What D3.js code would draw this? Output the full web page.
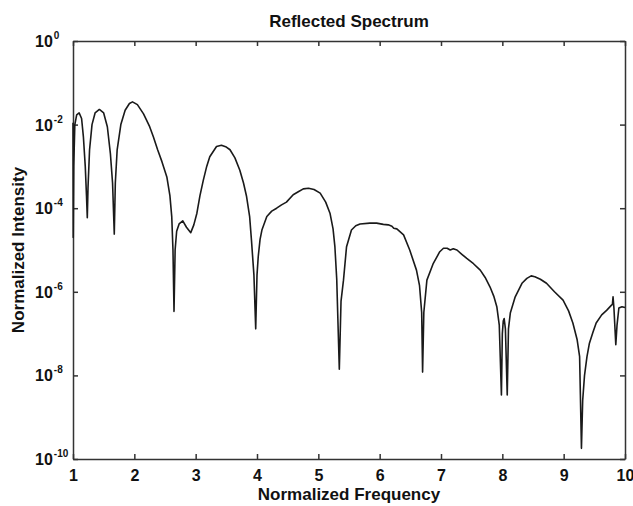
<!DOCTYPE html>
<html lang="en">
<head>
  <meta charset="utf-8">
  <title>Reflected Spectrum</title>
  <script src="https://d3js.org/d3.v7.min.js"></script>
  <style>
    body { margin: 0; background: #fff; }
    text { font-family: 'Liberation Sans', Arial, sans-serif; font-weight: bold; fill: #111; }
    .axis path, .axis line { stroke: #333; stroke-width: 1.5px; }
    .line { fill: none; stroke: #1a1a1a; stroke-width: 1.6px; stroke-linejoin: round; }
  </style>
</head>
<body>
<div id="chart"></div>
<script>
  // values
  var freq = [
    1.000, 1.004, 1.012, 1.03, 1.06, 1.10, 1.14, 1.17, 1.20, 1.22, 1.233, 1.245, 1.27, 1.31, 1.36,
    1.43, 1.50, 1.56, 1.61, 1.645, 1.673, 1.69, 1.72, 1.78, 1.85, 1.92, 1.97, 2.05, 2.15, 2.25,
    2.31, 2.38, 2.45, 2.53, 2.58, 2.61, 2.63, 2.647, 2.665, 2.69, 2.73, 2.79, 2.85, 2.92, 2.97,
    3.02, 3.07, 3.125, 3.18, 3.23, 3.34, 3.42, 3.50, 3.56, 3.64, 3.72, 3.78, 3.83, 3.88, 3.91,
    3.95, 3.979, 4.00, 4.02, 4.05, 4.08, 4.16, 4.24, 4.32, 4.40, 4.48, 4.59, 4.68, 4.755, 4.84,
    4.93, 5.03, 5.12, 5.19, 5.24, 5.27, 5.30, 5.342, 5.37, 5.41, 5.46, 5.54, 5.61, 5.68, 5.84,
    5.95, 6.06, 6.14, 6.20, 6.23, 6.28, 6.39, 6.49, 6.60, 6.65, 6.685, 6.70, 6.72, 6.77, 6.875,
    6.98, 7.04, 7.10, 7.15, 7.20, 7.26, 7.34, 7.42, 7.53, 7.64, 7.72, 7.80, 7.86, 7.91, 7.95,
    7.985, 8.00, 8.015, 8.03, 8.05, 8.08, 8.10, 8.13, 8.21, 8.32, 8.40, 8.47, 8.53, 8.62, 8.72,
    8.85, 8.99, 9.08, 9.15, 9.22, 9.26, 9.29, 9.31, 9.34, 9.38, 9.42, 9.48, 9.53, 9.62, 9.70,
    9.78, 9.795, 9.805, 9.82, 9.85, 9.87, 9.90, 9.95, 10.0
  ];
  var intensity = [
    1.1e-2, 2.0e-5, 1.0e-3, 1.0e-2, 1.7e-2, 1.9e-2, 1.4e-2, 5.0e-3, 1.0e-3, 2.0e-4, 5.9e-5, 3.2e-4, 2.5e-3, 1.0e-2, 1.9e-2,
    2.3e-2, 1.9e-2, 8.9e-3, 2.0e-3, 4.0e-4, 2.4e-5, 4.0e-4, 2.5e-3, 1.0e-2, 2.2e-2, 3.2e-2, 3.5e-2, 3.0e-2, 1.8e-2, 8.9e-3,
    5.1e-3, 2.5e-3, 1.3e-3, 5.6e-4, 2.0e-4, 6.3e-5, 1.0e-5, 3.4e-7, 1.0e-5, 2.8e-5, 4.2e-5, 5.0e-5, 3.5e-5, 2.6e-5, 4.0e-5,
    7.6e-5, 2.0e-4, 4.7e-4, 1.0e-3, 1.7e-3, 3.0e-3, 3.2e-3, 2.9e-3, 2.5e-3, 1.6e-3, 8.1e-4, 4.0e-4, 1.9e-4, 6.3e-5, 1.7e-5,
    2.5e-6, 1.3e-7, 2.5e-6, 6.9e-6, 1.8e-5, 3.0e-5, 6.3e-5, 8.5e-5, 1.0e-4, 1.2e-4, 1.4e-4, 2.1e-4, 2.5e-4, 2.9e-4, 3.0e-4,
    2.8e-4, 2.3e-4, 1.4e-4, 7.6e-5, 3.2e-5, 1.2e-5, 2.0e-6, 1.4e-8, 6.0e-7, 1.9e-6, 1.2e-5, 3.0e-5, 3.8e-5, 4.2e-5, 4.4e-5,
    4.4e-5, 4.1e-5, 4.0e-5, 3.7e-5, 3.3e-5, 3.2e-5, 2.3e-5, 1.0e-5, 3.3e-6, 1.4e-6, 3.2e-7, 1.2e-8, 3.2e-7, 1.9e-6, 4.8e-6,
    9.1e-6, 1.1e-5, 1.1e-5, 1.0e-5, 1.07e-5, 1.0e-5, 7.9e-6, 6.3e-6, 4.7e-6, 3.3e-6, 2.2e-6, 1.3e-6, 7.9e-7, 4.4e-7, 1.6e-7,
    3.4e-9, 1.0e-7, 2.0e-7, 2.3e-7, 1.3e-7, 3.4e-9, 1.3e-7, 3.1e-7, 7.6e-7, 1.6e-6, 2.1e-6, 2.4e-6, 2.3e-6, 2.0e-6, 1.6e-6,
    1.0e-6, 6.3e-7, 3.5e-7, 1.8e-7, 7.1e-8, 2.8e-8, 1.8e-10, 2.5e-9, 1.0e-8, 2.8e-8, 5.9e-8, 1.1e-7, 1.8e-7, 2.8e-7, 3.6e-7,
    4.8e-7, 5.0e-7, 7.6e-7, 4.0e-7, 5.4e-8, 1.6e-7, 4.1e-7, 4.4e-7, 4.2e-7
  ];
  var xTicks = [1, 2, 3, 4, 5, 6, 7, 8, 9, 10];
  var yTickExps = [0, -2, -4, -6, -8, -10];

  var margin = { top: 41, right: 8, bottom: 47, left: 73 },
      width = 633 - margin.left - margin.right,
      height = 506 - margin.top - margin.bottom;

  var svg = d3.select("#chart")
      .append("svg")
      .attr("width", 633)
      .attr("height", 506)
      .append("g")
      .attr("transform", "translate(" + margin.left + "," + margin.top + ")");

  var x = d3.scaleLinear().domain([1, 10]).range([0, width]);
  var y = d3.scaleLog().domain([1e-10, 1]).range([height, 0]);
  var yTicks = yTickExps.map(function (e) { return Math.pow(10, e); });

  // bottom axis with labels, ticks pointing in
  var xAxis = svg.append("g")
      .attr("class", "axis")
      .attr("transform", "translate(0," + height + ")")
      .call(d3.axisBottom(x).tickValues(xTicks).tickSizeInner(-5).tickSizeOuter(0).tickPadding(11).tickFormat(d3.format("d")));
  xAxis.selectAll("text").style("font-size", "16px").attr("fill", "#111");

  // top axis, ticks only
  svg.append("g")
      .attr("class", "axis")
      .call(d3.axisTop(x).tickValues(xTicks).tickSizeInner(-5).tickSizeOuter(0).tickFormat(""));

  // left axis, labels drawn below with superscripts
  svg.append("g")
      .attr("class", "axis")
      .call(d3.axisLeft(y).tickValues(yTicks).tickSizeInner(-5).tickSizeOuter(0).tickFormat(""));

  // right axis, ticks only
  svg.append("g")
      .attr("class", "axis")
      .attr("transform", "translate(" + width + ",0)")
      .call(d3.axisRight(y).tickValues(yTicks).tickSizeInner(-5).tickSizeOuter(0).tickFormat(""));

  var yLabels = svg.append("g").selectAll("text")
      .data(yTickExps)
      .enter()
      .append("text")
      .attr("x", -38)
      .attr("y", function (d) { return y(Math.pow(10, d)) + 6; })
      .style("font-size", "16px");
  yLabels.append("tspan").text("10");
  yLabels.append("tspan")
      .attr("dx", 1)
      .attr("dy", -8)
      .style("font-size", "10px")
      .text(function (d) { return d; });

  // the spectrum
  var points = freq.map(function (f, i) { return [f, intensity[i]]; });
  svg.append("path")
      .datum(points)
      .attr("class", "line")
      .attr("d", d3.line()
          .x(function (d) { return x(d[0]); })
          .y(function (d) { return y(d[1]); }));

  // title and axis labels
  svg.append("text")
      .attr("x", width / 2)
      .attr("y", -14)
      .attr("text-anchor", "middle")
      .style("font-size", "17px")
      .text("Reflected Spectrum");

  svg.append("text")
      .attr("x", width / 2)
      .attr("y", height + 41)
      .attr("text-anchor", "middle")
      .style("font-size", "17px")
      .text("Normalized Frequency");

  svg.append("text")
      .attr("transform", "rotate(-90)")
      .attr("x", -height / 2)
      .attr("y", -49)
      .attr("text-anchor", "middle")
      .style("font-size", "17px")
      .text("Normalized Intensity");
</script>
</body>
</html>
